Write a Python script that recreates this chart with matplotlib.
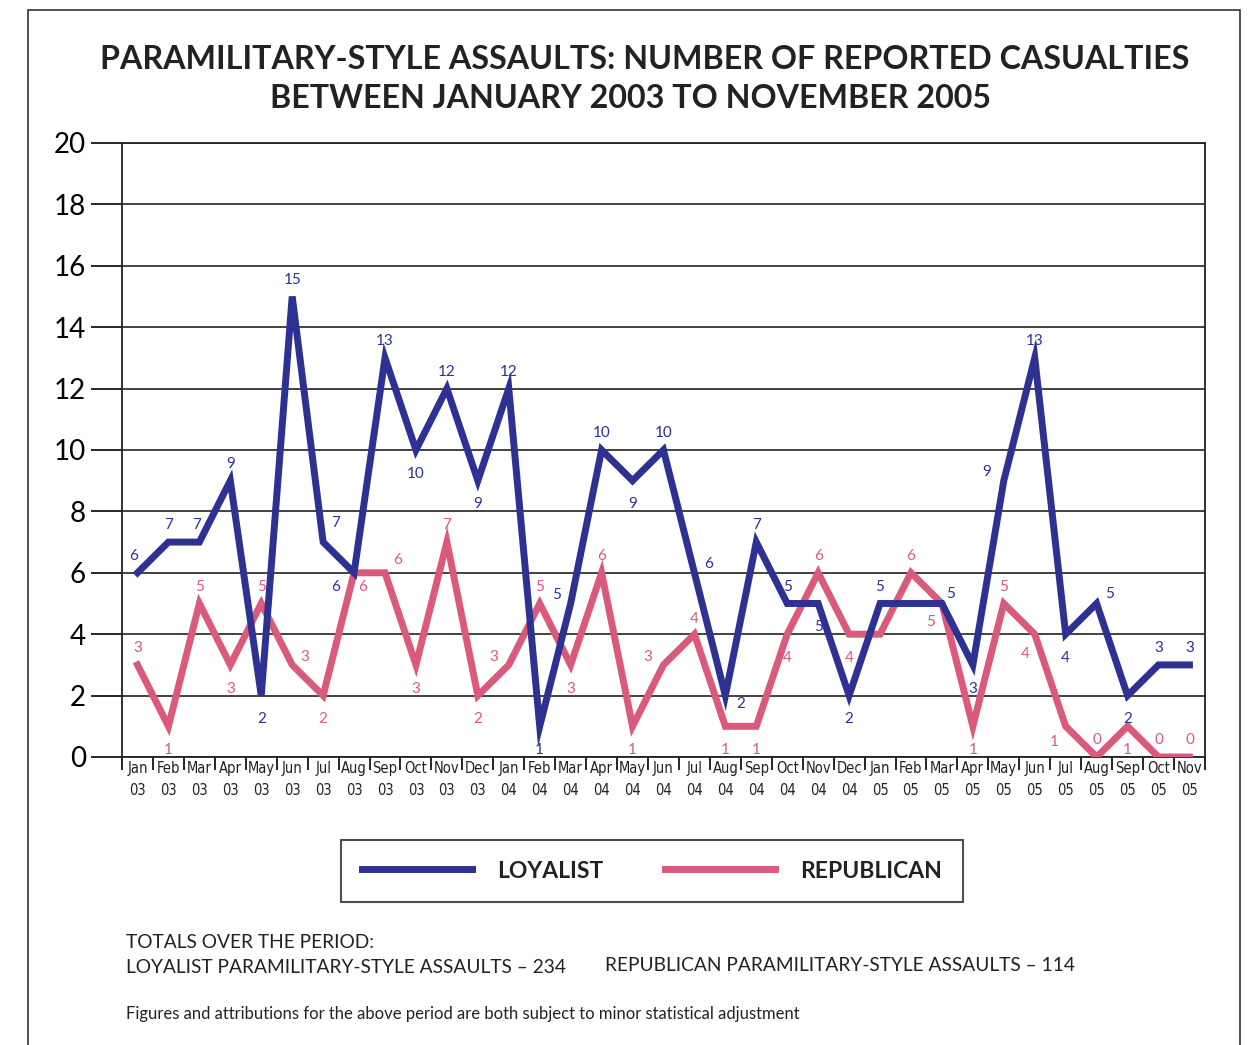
import matplotlib
matplotlib.use("Agg")
import matplotlib.pyplot as plt
from matplotlib.patches import Rectangle
from matplotlib.lines import Line2D

months = ["Jan", "Feb", "Mar", "Apr", "May", "Jun", "Jul", "Aug", "Sep", "Oct", "Nov", "Dec"] * 3
years = ["03"] * 12 + ["04"] * 12 + ["05"] * 12
months = months[:35]
years = years[:35]

loyalist = [6, 7, 7, 9, 2, 15, 7, 6, 13, 10, 12, 9,
            12, 1, 5, 10, 9, 10, 6, 2, 7, 5, 5, 2,
            5, 5, 5, 3, 9, 13, 4, 5, 2, 3, 3]
republican = [3, 1, 5, 3, 5, 3, 2, 6, 6, 3, 7, 2,
              3, 5, 3, 6, 1, 3, 4, 1, 1, 4, 6, 4,
              4, 6, 5, 1, 5, 4, 1, 0, 1, 0, 0]

# label placement per point (dx, dy in points); None = no label
A, B = (0, 12), (0, -17)
loy_pos = [(-3, 12), A, (-2, 12), A, B, A, (9, 14), (-13, -10), A, B, A, B,
           A, B, (-10, 6), A, B, A, (10, 6), (11, -6), A, A, B, B,
           A, None, (6, 7), B, (-12, 6), A, B, (9, 7), B, A, A]
rep_pos = [A, B, A, B, A, (9, 6), B, (6, -10), (9, 9), B, A, B,
           (-11, 6), A, B, A, B, (-11, 6), (0, 11), B, B, B, A, B,
           None, A, (-8, -13), B, A, (-7, -14), (-8, -11), A, B, A, A]

navy = "#2d3191"
pink = "#d95a7b"

fig = plt.figure(figsize=(12.49, 10.45), dpi=100)
ax = fig.add_axes([0.0977, 0.2756, 0.867, 0.5876])

x = list(range(len(loyalist)))
ax.plot(x, republican, color=pink, lw=5, solid_joinstyle="miter", zorder=3)
ax.plot(x, loyalist, color=navy, lw=5, solid_joinstyle="miter", zorder=4)

for series, pos, col in [(loyalist, loy_pos, navy), (republican, rep_pos, pink)]:
    for i, v in enumerate(series):
        if pos[i] is None:
            continue
        ax.annotate(str(v), (i, v), xytext=pos[i], textcoords="offset points",
                    ha="center", va="center", color=col, fontsize=11,
                    family="Lato", zorder=5)

ax.set_xlim(-0.5, 34.5)
ax.set_ylim(0, 20)
ax.set_yticks(range(0, 21, 2))
ax.set_yticklabels([str(v) for v in range(0, 21, 2)], fontsize=20, family="Lato")
ax.tick_params(axis="y", length=22, width=1.2, pad=4)
ax.grid(axis="y", color="#222222", lw=1.2)
ax.set_axisbelow(True)

ax.set_xticks([i - 0.5 for i in range(36)], minor=False)
ax.set_xticklabels([])
ax.set_xticks(x, minor=True)
ax.set_xticklabels([f"{m}\n{y}" for m, y in zip(months, years)], minor=True,
                   fontsize=10.5, family="DejaVu Sans", fontstretch="condensed",
                   linespacing=1.6, color="#222222")
ax.tick_params(axis="x", which="major", length=9, width=1.2, direction="out")
ax.tick_params(axis="x", which="minor", length=0, pad=3)
for s in ax.spines.values():
    s.set_linewidth(1.3)
    s.set_color("#222222")

fig.text(0.516, 0.943, "PARAMILITARY-STYLE ASSAULTS: NUMBER OF REPORTED CASUALTIES",
         ha="center", va="center", fontsize=23.2, fontweight="bold", family="Lato",
         color="#222222")
fig.text(0.505, 0.906, "BETWEEN JANUARY 2003 TO NOVEMBER 2005",
         ha="center", va="center", fontsize=23.2, fontweight="bold", family="Lato",
         color="#222222")

handles = [Line2D([], [], color=navy, lw=5), Line2D([], [], color=pink, lw=5)]
leg = fig.legend(handles, ["LOYALIST", "REPUBLICAN"], loc="center",
                 bbox_to_anchor=(0.522, 0.1665), ncol=2, frameon=True,
                 fancybox=False, edgecolor="#222222", handlelength=4.8,
                 handletextpad=1.1, columnspacing=2.7, borderpad=0.9,
                 prop={"family": "Lato", "weight": "bold", "size": 16.5})
leg.get_frame().set_linewidth(1.5)
for t in leg.get_texts():
    t.set_color("#222222")

fig.text(0.101, 0.098, "TOTALS OVER THE PERIOD:", fontsize=13.8, family="Lato",
         va="center", color="#222222")
fig.text(0.101, 0.074, "LOYALIST PARAMILITARY-STYLE ASSAULTS \u2013 234", fontsize=13.8,
         family="Lato", va="center", color="#222222")
fig.text(0.484, 0.076, "REPUBLICAN PARAMILITARY-STYLE ASSAULTS \u2013 114", fontsize=13.8,
         family="Lato", va="center", color="#222222")
fig.text(0.101, 0.030, "Figures and attributions for the above period are both subject to minor statistical adjustment",
         fontsize=12, family="Lato", va="center", color="#222222")

fig.patches.append(Rectangle((0.0224, -0.02), 0.97, 1.01, transform=fig.transFigure,
                             fill=False, edgecolor="#333333", lw=1.2))

fig.savefig("out.png", dpi=100)
